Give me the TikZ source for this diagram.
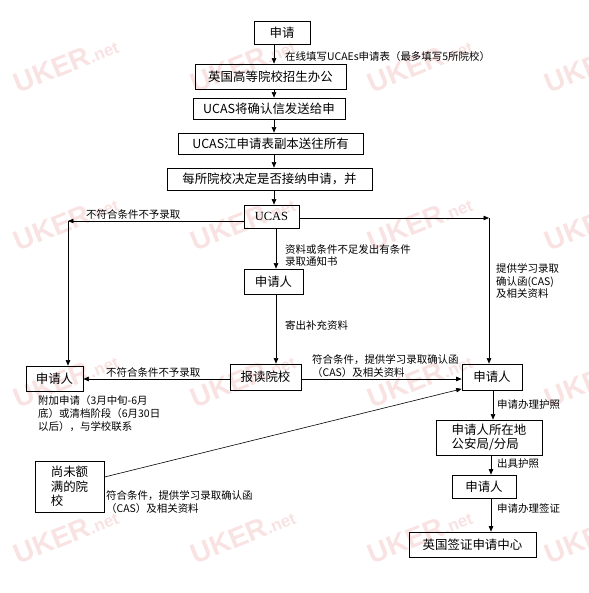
\documentclass[tikz,border=0pt]{standalone}
\usepackage{fontspec}
\setmainfont{Noto Sans CJK SC}
\newfontfamily\wmfont{Liberation Sans}
\newfontfamily\serifucas{Liberation Serif}
\usetikzlibrary{arrows.meta}
\begin{document}
\begin{tikzpicture}[x=1bp,y=-1bp,
  box/.style={draw, line width=0.75pt, inner sep=0pt, font=\fontsize{12.5}{15}\selectfont},
  lbl/.style={inner sep=0pt, anchor=west, align=left, font=\fontsize{10.5}{12.8}\selectfont},
  arr/.style={line width=0.6pt, -{Triangle[length=5.5pt,width=4.5pt]}},
  wm/.style={inner sep=0pt, rotate=22, text={rgb,255:red,249;green,226;blue,226}, font=\wmfont\bfseries}
]
\useasboundingbox (0,0) rectangle (589,593);
% watermarks
\foreach \wx in {66,243,420,597}{
  \foreach \wy in {64,222,379,535}{
    \node[wm] (wm-\wx-\wy) at (\wx,\wy) {\fontsize{28}{28}\selectfont UKER\fontsize{17}{17}\selectfont.net};
  }
}
% nodes
\node[box, minimum width=56bp, minimum height=23bp] (n1) at (282,32.5) {申请};
\node[box, minimum width=151bp, minimum height=25bp] (n2) at (270.5,76.5) {英国高等院校招生办公};
\node[box, minimum width=152bp, minimum height=21bp] (n3) at (269,108.5) {UCAS将确认信发送给申};
\node[box, minimum width=185bp, minimum height=21bp] (n4) at (270.5,143.5) {UCAS江申请表副本送往所有};
\node[box, minimum width=205bp, minimum height=22bp] (n5) at (269.5,179) {每所院校决定是否接纳申请，并};
\node[box, minimum width=55bp, minimum height=23bp, font=\serifucas\fontsize{12.5}{15}\selectfont] (ucas) at (271.5,216.5) {UCAS};
\node[box, minimum width=59bp, minimum height=25bp] (mid) at (273.5,281.5) {申请人};
\node[box, minimum width=71bp, minimum height=26bp] (bd) at (265.5,377) {报读院校};
\node[box, minimum width=57bp, minimum height=25bp] (L) at (54.5,378.5) {申请人};
\node[box, minimum width=60bp, minimum height=26bp] (R) at (492,377) {申请人};
\node[box, minimum width=106bp, minimum height=35bp, align=left, font=\fontsize{12.5}{14.5}\selectfont] (ps) at (489,437.5) {申请人所在地\\公安局/分局};
\node[box, minimum width=64bp, minimum height=23bp] (low) at (484,486.5) {申请人};
\node[box, minimum width=127bp, minimum height=25bp] (visa) at (472.5,544.5) {英国签证申请中心};
\node[box, minimum width=69bp, minimum height=51bp, align=left, font=\fontsize{12.5}{14.5}\selectfont] (sw) at (69.5,486.5) {尚未额\\满的院\\校};
% helper coordinates
\coordinate (c1) at (274,0);
\coordinate (c2) at (276,0);
\coordinate (c3) at (493,0);
\coordinate (c4) at (491,0);
\coordinate (tl) at (68,221);
\coordinate (tr) at (489,218);
% connectors
\draw[arr] (n1.south -| c1) -- (n2.north -| c1);
\draw[arr] (n2.south -| c1) -- (n3.north -| c1);
\draw[arr] (n3.south -| c1) -- (n4.north -| c1);
\draw[arr] (n4.south -| c1) -- (n5.north -| c1);
\draw[arr] (n5.south -| c1) -- (ucas.north -| c1);
\draw[arr] (ucas.south -| c2) -- (mid.north -| c2);
\draw[arr] (mid.south -| c2) -- (bd.north -| c2);
\draw[arr] (ucas.west |- tl) -- (tl);
\draw[arr] (tl) -- (L.north -| tl);
\draw[arr] (ucas.east |- tr) -- (tr);
\draw[arr] (tr) -- (R.north -| tr);
\draw[arr] ([yshift=-2pt]bd.west) -- ([yshift=-2pt]bd.west -| L.east);
\draw[arr] ([yshift=-2pt]bd.east) -- ([yshift=-2pt]bd.east -| R.west);
\draw[arr] ([yshift=9.5pt]sw.east) -- ([yshift=1.5pt]R.south west);
\draw[arr] (R.south -| c3) -- (ps.north -| c3);
\draw[arr] (ps.south -| c4) -- (low.north -| c4);
\draw[arr] (low.south -| c4) -- (visa.north -| c4);
% labels
\node[lbl] (t1) at (285,56.5) {在线填写UCAEs申请表（最多填写5所院校）};
\node[lbl] (t2) at (86,215) {不符合条件不予录取};
\node[lbl] (t3) at (285,255.5) {资料或条件不足发出有条件\\录取通知书};
\node[lbl] (t4) at (496,281) {提供学习录取\\确认函(CAS)\\及相关资料};
\node[lbl] (t5) at (285,326) {寄出补充资料};
\node[lbl] (t6) at (106,372.5) {不符合条件不予录取};
\node[lbl] (t7) at (312,366) {符合条件，提供学习录取确认函\\（CAS）及相关资料};
\node[lbl] (t8) at (38,413.5) {附加申请（3月中旬-6月\\底）或清档阶段（6月30日\\以后），与学校联系};
\node[lbl] (t9) at (106,502) {符合条件，提供学习录取确认函\\（CAS）及相关资料};
\node[lbl] (t10) at (497,405) {申请办理护照};
\node[lbl] (t11) at (497,464) {出具护照};
\node[lbl] (t12) at (497,509) {申请办理签证};
\end{tikzpicture}
\end{document}
